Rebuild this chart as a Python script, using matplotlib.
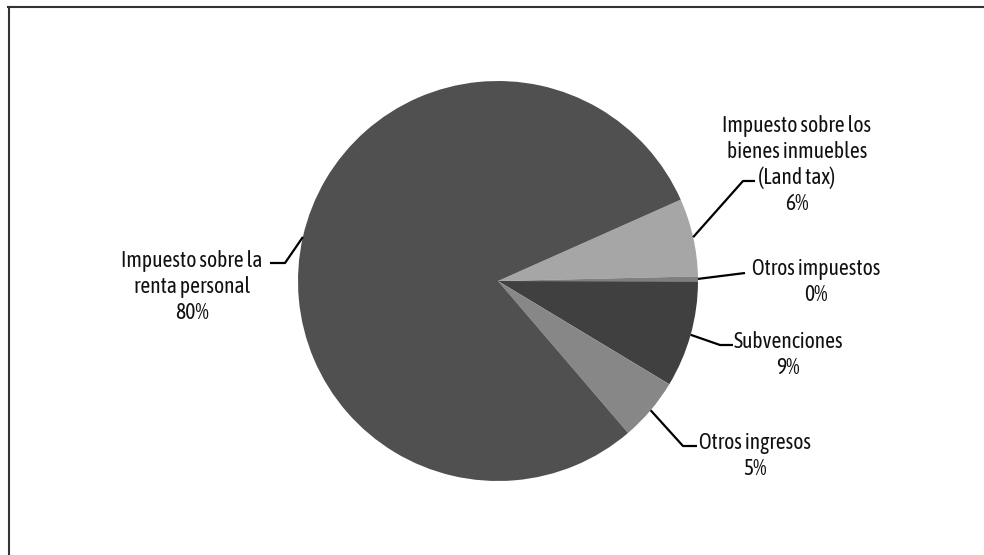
import numpy as np
import matplotlib
matplotlib.use("Agg")
import matplotlib.pyplot as plt
from matplotlib.lines import Line2D

# slices, clockwise starting from the land tax wedge
labels = ["Impuesto sobre los\nbienes inmuebles\n(Land tax)",
          "Otros impuestos",
          "Subvenciones",
          "Otros ingresos",
          "Impuesto sobre la\nrenta personal"]
shares = [6.3, 0.4, 8.6, 5.1, 79.6]
pct_text = ["6%", "0%", "9%", "5%", "80%"]
colors = ["#a6a6a6", "#7f7f7f", "#404040", "#878787", "#505050"]

plt.rcParams['font.family'] = ['Asap Condensed', 'DejaVu Sans']

fig = plt.figure(figsize=(9.84, 5.55), dpi=100)
ax = fig.add_axes([0, 0, 1, 1])
R = 200
wedges, _ = ax.pie(shares, colors=colors, startangle=24, counterclock=False,
                   radius=R, center=(0, 0), wedgeprops=dict(linewidth=0))
ax.set_xlim(-498, 984 - 498)
ax.set_ylim(-(555 - 281), 281)
ax.set_aspect('equal')
ax.axis('off')

# leader elbows, leader ends and label centres (data units ~ pixels)
elbows = [(245, 100), (247, 8), (222, -64), (185, -165), (-213, 18)]
ends = [(257, 100), (247, 8), (235, -64), (199, -165), (-228, 18)]
text_pos = [(299, 116), (318, -1), (290, -74), (257, -175), (-306, -6)]

for w, lab, pct, el, en, tp in zip(wedges, labels, pct_text, elbows, ends, text_pos):
    mid = np.deg2rad((w.theta1 + w.theta2) / 2)
    sx, sy = R * np.cos(mid), R * np.sin(mid)
    ax.plot([sx, el[0], en[0]], [sy, el[1], en[1]], color="black", lw=1.6,
            solid_capstyle='butt', clip_on=False)
    ax.text(tp[0], tp[1], lab + "\n" + pct, ha="center", va="center",
            fontsize=15.5, linespacing=1.22, color="#111111")

# frame lines (top and left)
fig.add_artist(Line2D([8 / 984, 1], [1 - 6.5 / 555, 1 - 6.5 / 555],
                      color="#333333", lw=1.5, transform=fig.transFigure))
fig.add_artist(Line2D([8.5 / 984, 8.5 / 984], [0, 1 - 6.5 / 555],
                      color="#333333", lw=1.5, transform=fig.transFigure))

fig.savefig("out.png", dpi=100)
